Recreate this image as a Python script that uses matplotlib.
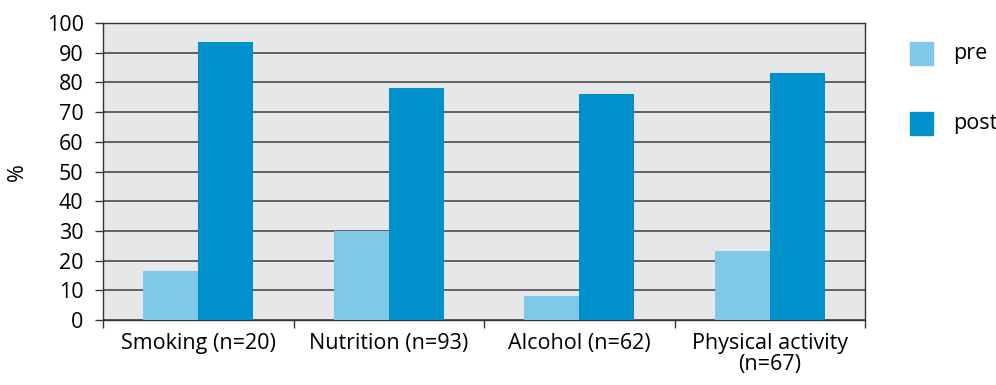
import matplotlib
matplotlib.use("Agg")
import matplotlib.pyplot as plt
from matplotlib.patches import Rectangle
import numpy as np

categories = ["Smoking (n=20)", "Nutrition (n=93)", "Alcohol (n=62)", "Physical activity\n(n=67)"]
pre = [16.5, 30.0, 8.1, 23.2]
post = [93.6, 78.1, 76.1, 83.2]
series_names = ["pre", "post"]
yticks = list(range(0, 101, 10))

c_pre = "#7fc8e7"
c_post = "#0091cd"

plt.rcParams['font.family'] = ['Open Sans', 'DejaVu Sans']
FS = 15.5
fig = plt.figure(figsize=(9.96, 3.85), dpi=100)
ax = fig.add_axes([103/996, 1-320/385, (865-103)/996, (320-23)/385])
ax.set_facecolor("#e6e7e9")

x = np.arange(len(categories))
w = 0.289
ax.bar(x - w/2, pre, w, color=c_pre, zorder=3)
ax.bar(x + w/2, post, w, color=c_post, zorder=3)

ax.set_xlim(-0.5, len(categories) - 0.5)
ax.set_ylim(0, 100)
ax.set_yticks(yticks)
ax.set_yticklabels([str(t) for t in yticks], fontsize=FS)
ax.yaxis.grid(True, color="#4a4a4a", linewidth=1.2, zorder=1)
ax.set_axisbelow(True)
ax.set_xticks(np.arange(-0.5, len(categories), 1.0))
ax.set_xticklabels([])
ax.set_xticks(x, minor=True)
ax.set_xticklabels(categories, minor=True, fontsize=FS)
ax.tick_params(axis="x", which="minor", length=0, pad=9)
ax.tick_params(axis="x", which="major", length=6, width=1, color="#333333")
ax.tick_params(axis="y", length=6, width=1, color="#333333", pad=8)
for s in ax.spines.values():
    s.set_color("#333333")
    s.set_linewidth(1)
for lab in ax.get_xticklabels(minor=True):
    lab.set_linespacing(1.05)

fig.text(17/996, 1-172/385, "%", rotation=90, fontsize=FS, ha="center", va="center")

# legend
for i, (name, col) in enumerate(zip(series_names, [c_pre, c_post])):
    y0 = 42 + i * 70
    fig.patches.append(Rectangle((910/996, 1-(y0+23)/385), 23/996, 23/385,
                                 transform=fig.transFigure, color=col, figure=fig))
    fig.text(953/996, 1-(y0+12)/385, name, fontsize=FS, ha="left", va="center")

fig.savefig("out.png", dpi=100)
